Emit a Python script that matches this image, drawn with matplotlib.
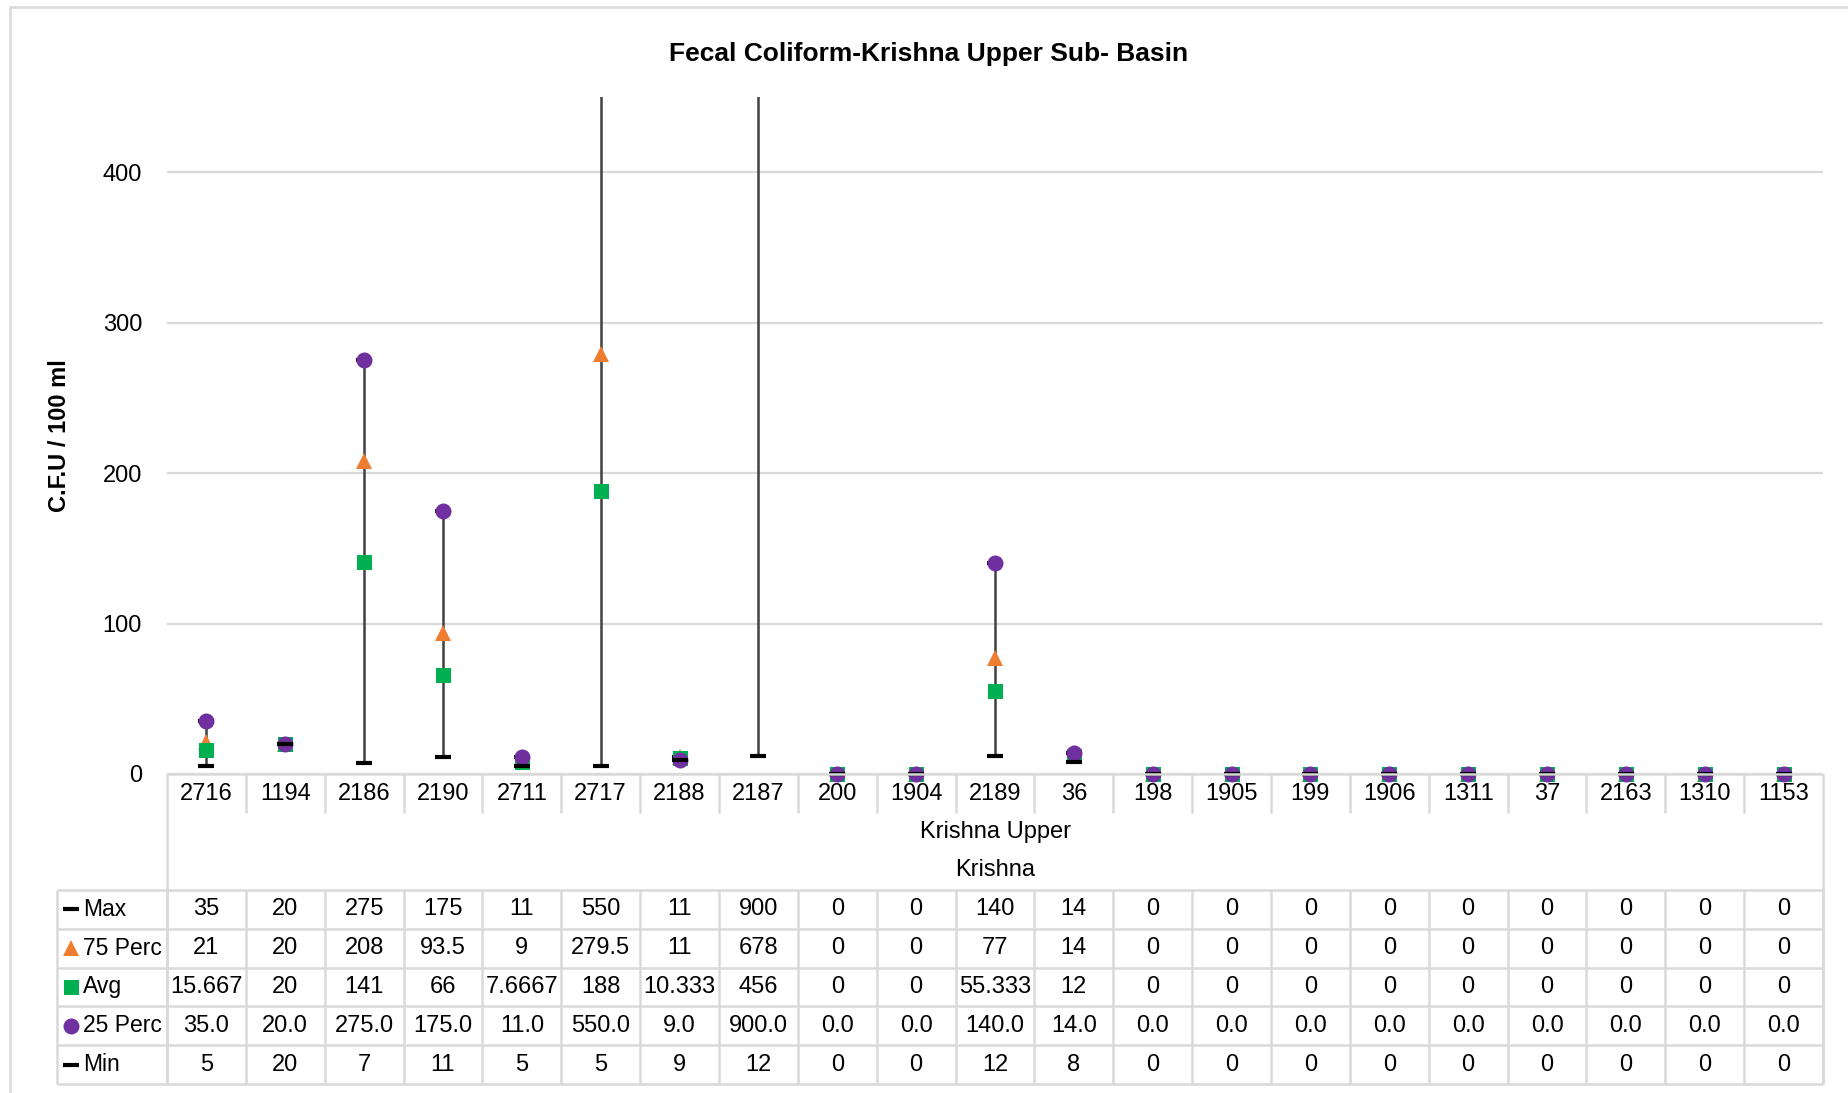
import numpy as np
import matplotlib
matplotlib.use("Agg")
import matplotlib.pyplot as plt
from matplotlib.lines import Line2D

# site codes (level 1 categories) and the two group levels below them
sites = ['2716', '1194', '2186', '2190', '2711', '2717', '2188', '2187', '200', '1904',
         '2189', '36', '198', '1905', '199', '1906', '1311', '37', '2163', '1310', '1153']
group_sub = 'Krishna Upper'
group_basin = 'Krishna'

max_vals = [35, 20, 275, 175, 11, 550, 11, 900, 0, 0, 140, 14, 0, 0, 0, 0, 0, 0, 0, 0, 0]
p75_vals = [21, 20, 208, 93.5, 9, 279.5, 11, 678, 0, 0, 77, 14, 0, 0, 0, 0, 0, 0, 0, 0, 0]
avg_vals = [15.667, 20, 141, 66, 7.6667, 188, 10.333, 456, 0, 0, 55.333, 12, 0, 0, 0, 0, 0, 0, 0, 0, 0]
p25_vals = [35, 20, 275, 175, 11, 550, 9, 900, 0, 0, 140, 14, 0, 0, 0, 0, 0, 0, 0, 0, 0]
min_vals = [5, 20, 7, 11, 5, 5, 9, 12, 0, 0, 12, 8, 0, 0, 0, 0, 0, 0, 0, 0, 0]

title = 'Fecal Coliform-Krishna Upper Sub- Basin'
ylabel = 'C.F.U / 100 ml'
y_max = 450

plt.rcParams['font.family'] = ['Liberation Sans', 'DejaVu Sans']

W, H = 1848, 1093
fig = plt.figure(figsize=(W / 100, H / 100), dpi=100)


def fx(px):
    return px / W


def fy(py):
    return 1 - py / H


grid_col = '#D9D9D9'
fs = 17
n = len(sites)
x = np.arange(n)

# plot area
left, right, zero_y, top_y = 167, 1823, 774, 97
ax = fig.add_axes([fx(left), fy(zero_y), (right - left) / W, (zero_y - top_y) / H])
ax.set_xlim(-0.5, n - 0.5)
ax.set_ylim(0, y_max)
for s in ax.spines.values():
    s.set_visible(False)
ax.set_xticks([])
ax.set_yticks([0, 100, 200, 300, 400])
ax.tick_params(axis='y', length=0, labelsize=fs, pad=18)
ax.yaxis.grid(True, color=grid_col, lw=1.6)
ax.set_axisbelow(True)

ax.vlines(x, min_vals, max_vals, colors='#404040', lw=1.8, zorder=2)

series = [
    ('Max', max_vals, '_', 'black'),
    ('75 Perc', p75_vals, '^', '#ED7D31'),
    ('Avg', avg_vals, 's', '#00B050'),
    ('25 Perc', p25_vals, 'o', '#7030A0'),
    ('Min', min_vals, '_', 'black'),
]
fmt = {
    'Max': lambda v: f'{v:g}',
    '75 Perc': lambda v: f'{v:g}',
    'Avg': lambda v: f'{v:.5g}',
    '25 Perc': lambda v: f'{v:.1f}',
    'Min': lambda v: f'{v:g}',
}


def marker_kw(m, c):
    if m == '_':
        return dict(marker='_', markersize=11, markeredgewidth=3.0, color=c)
    size = {'o': 11.5, 's': 10.8, '^': 11}[m]
    return dict(marker=m, markersize=size, color=c, markeredgewidth=0)


for z, (name, vals, m, c) in enumerate(series):
    v = np.array(vals, dtype=float)
    v = np.where(v <= y_max, v, np.nan)
    ax.plot(x, v, linestyle='none', clip_on=False, zorder=3 + z, **marker_kw(m, c))

# data table below the plot
tab_left, tab_bottom = 57, 1084
col_w = (right - left) / n
lead = (left - tab_left) / col_w
tab = fig.add_axes([fx(tab_left), fy(tab_bottom), (right - tab_left) / W, (tab_bottom - zero_y) / H])
tab.set_xlim(-0.5 - lead, n - 0.5)
tab.set_ylim(tab_bottom, zero_y)
tab.axis('off')

cat_bottom = 813
row_edges = np.linspace(890, tab_bottom, len(series) + 1)
lkw = dict(color=grid_col, lw=1.8, clip_on=False)

tab.hlines(zero_y, -0.5, n - 0.5, **lkw)
tab.hlines(row_edges, -0.5 - lead, n - 0.5, **lkw)
tab.vlines(x[1:] - 0.5, zero_y, cat_bottom, **lkw)
tab.vlines(np.arange(n + 1) - 0.5, row_edges[0], row_edges[-1], **lkw)
tab.vlines([-0.5, n - 0.5], zero_y, tab_bottom, **lkw)
tab.vlines(-0.5 - lead, row_edges[0], row_edges[-1], **lkw)

for i, s in enumerate(sites):
    tab.text(i, (zero_y + cat_bottom) / 2, s, ha='center', va='center', fontsize=fs)
tab.text((n - 1) / 2, 832, group_sub, ha='center', va='center', fontsize=fs)
tab.text((n - 1) / 2, 870, group_basin, ha='center', va='center', fontsize=fs)

for r, (name, vals, m, c) in enumerate(series):
    yc = (row_edges[r] + row_edges[r + 1]) / 2
    tab.plot([-0.5 - lead + 0.177], [yc], linestyle='none', clip_on=False, **marker_kw(m, c))
    tab.text(-0.5 - lead + 0.33, yc, name, ha='left', va='center', fontsize=fs - 0.5)
    for i, v in enumerate(vals):
        tab.text(i, yc, fmt[name](v), ha='center', va='center', fontsize=fs)

fig.text(fx(929), fy(54), title, ha='center', va='center', fontsize=19, fontweight='bold')
fig.text(fx(59), fy(436), ylabel, ha='center', va='center', rotation=90, fontsize=17,
         fontweight='bold')

# chart border
fig.add_artist(Line2D([fx(10), fx(10), 1], [0, fy(7), fy(7)], transform=fig.transFigure,
                      color=grid_col, lw=1.8))

fig.savefig('out.png', dpi=100)
